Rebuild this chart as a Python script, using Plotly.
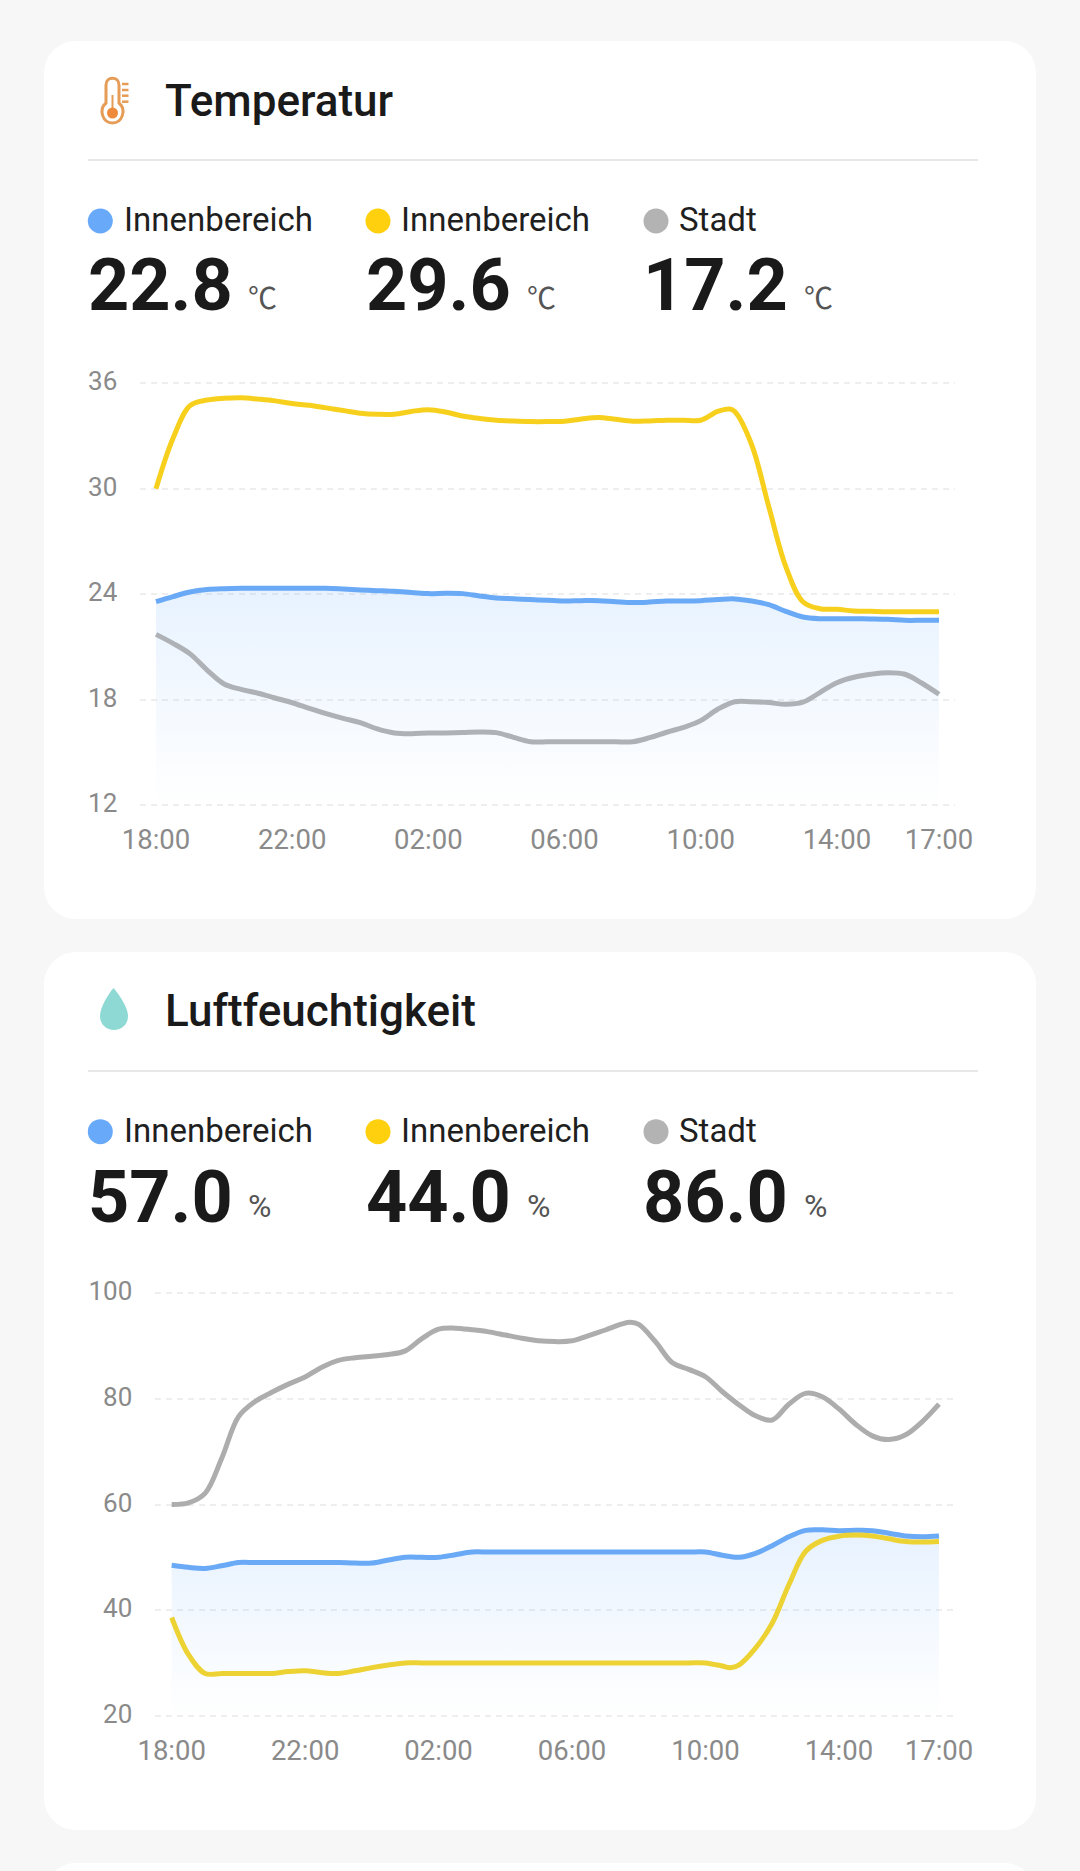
import plotly.graph_objects as go

stunden = [i * 0.5 for i in range(47)]
tick_stunden = [0, 4, 8, 12, 16, 20, 23]
tick_texte = ["18:00", "22:00", "02:00", "06:00", "10:00", "14:00", "17:00"]

temp_ticks = [12, 18, 24, 30, 36]
feucht_ticks = [20, 40, 60, 80, 100]

# Temperatur
temp_blau = [23.57, 23.86, 24.12, 24.26, 24.31, 24.33, 24.33, 24.33, 24.33, 24.33, 24.33, 24.29,
             24.24, 24.2, 24.16, 24.1, 24.03, 24.05, 24.03, 23.9, 23.78, 23.74, 23.69, 23.65,
             23.61, 23.63, 23.63, 23.57, 23.52, 23.55, 23.61, 23.61, 23.63, 23.69, 23.73, 23.61,
             23.4, 23.02, 22.7, 22.6, 22.6, 22.6, 22.59, 22.57, 22.51, 22.51, 22.51]
temp_gelb_stunden = sorted(stunden + [16.85])
temp_gelb = [30.0, 32.87, 34.73, 35.05, 35.15, 35.18, 35.1, 35.0, 34.85, 34.75, 34.6, 34.45,
             34.3, 34.24, 34.24, 34.4, 34.5, 34.37, 34.14, 34.0, 33.9, 33.85, 33.82, 33.82,
             33.84, 33.97, 34.06, 33.95, 33.84, 33.86, 33.9, 33.9, 33.9, 34.4, 34.54, 34.39, 32.49,
             28.98, 25.57, 23.57, 23.17, 23.14, 23.04, 23.02, 23.0, 23.0, 23.0, 23.0]
temp_grau = [21.71, 21.2, 20.6, 19.68, 18.89, 18.58, 18.36, 18.09, 17.82, 17.5, 17.2, 16.93,
             16.69, 16.33, 16.1, 16.06, 16.1, 16.1, 16.12, 16.16, 16.12, 15.85, 15.6, 15.6,
             15.6, 15.6, 15.6, 15.6, 15.6, 15.83, 16.14, 16.42, 16.8, 17.45, 17.88, 17.88,
             17.83, 17.73, 17.85, 18.4, 18.96, 19.27, 19.44, 19.53, 19.44, 18.93, 18.3]

# Luftfeuchtigkeit
feucht_blau = [48.5, 48.1, 47.9, 48.4, 49, 49, 49, 49, 49, 49, 49, 48.9,
               48.9, 49.5, 50, 50, 50, 50.5, 51, 51, 51, 51, 51, 51,
               51, 51, 51, 51, 51, 51, 51, 51, 51, 50.4, 50, 50.75,
               52.2, 53.9, 55.1, 55.2, 55.05, 55.1, 55.05, 54.55, 54.05, 53.9, 54.05]
feucht_gelb_stunden = sorted(stunden + [16.75])
feucht_gelb = [38.6, 31.6, 28, 28, 28, 28, 28, 28.35, 28.5, 28.15, 28, 28.5,
               29.1, 29.6, 30, 30, 30, 30, 30, 30, 30, 30, 30, 30,
               30, 30, 30, 30, 30, 30, 30, 30, 30, 29.4, 29.1, 29.6, 32.8,
               37.5, 44.8, 51.1, 53.2, 54, 54.2, 54.05, 53.5, 53, 52.9, 53]
feucht_grau_stunden = sorted(stunden + [13.75])
feucht_grau = [60, 60.3, 62.1, 68.75, 76.6, 79.5, 81.25, 82.8, 84.15, 86, 87.3, 87.8,
               88.1, 88.4, 89.1, 91.4, 93.2, 93.4, 93.1, 92.7, 92.1, 91.5, 91, 90.85,
               91, 92, 93.05, 94.2, 94.5, 94.1, 90.85, 86.9, 85.6, 84.2, 81.4, 78.9, 76.8,
               76, 79.0, 81.05, 80.4, 78.1, 75.2, 73, 72.3, 73.2, 75.7, 79]

# Kennzahlen oben in den Karten
namen = ["Innenbereich", "Innenbereich", "Stadt"]
temp_aktuell = ["22.8", "29.6", "17.2"]
feucht_aktuell = ["57.0", "44.0", "86.0"]

BREITE = 1080
HOEHE = 1871
SCHRIFT = "Roboto"
BLAU = "#69a9f5"
GELB = "#f7d01e"
GRAU = "#aeb1b6"
DICKE = 5


def fx(x):
    return x / BREITE


def fy(y):
    return 1 - y / HOEHE


def pfad(punkte):
    # Punkte in Pixeln -> SVG-Pfad in Papierkoordinaten
    teile = []
    for befehl, *werte in punkte:
        koord = []
        for i in range(0, len(werte), 2):
            koord.append(f"{fx(werte[i]):.5f},{fy(werte[i + 1]):.5f}")
        teile.append(befehl + " ".join(koord))
    return " ".join(teile)


def karte(x0, y0, x1, y1, r=32):
    k = r * 0.45
    return dict(
        type="path", xref="paper", yref="paper", layer="below",
        fillcolor="white", line=dict(width=0),
        path=pfad([
            ("M", x0 + r, y0), ("L", x1 - r, y0),
            ("C", x1 - k, y0, x1, y0 + k, x1, y0 + r),
            ("L", x1, y1 - r),
            ("C", x1, y1 - k, x1 - k, y1, x1 - r, y1),
            ("L", x0 + r, y1),
            ("C", x0 + k, y1, x0, y1 - k, x0, y1 - r),
            ("L", x0, y0 + r),
            ("C", x0, y0 + k, x0 + k, y0, x0 + r, y0),
        ]) + " Z",
    )


def linie(x0, y0, x1, y1, farbe, dicke):
    return dict(type="line", xref="paper", yref="paper", layer="below",
                x0=fx(x0), y0=fy(y0), x1=fx(x1), y1=fy(y1),
                line=dict(color=farbe, width=dicke))


def kreis(cx, cy, r, farbe, rand=None, dicke=0):
    return dict(type="circle", xref="paper", yref="paper", layer="below",
                x0=fx(cx - r), y0=fy(cy - r), x1=fx(cx + r), y1=fy(cy + r),
                fillcolor=farbe, line=dict(color=rand or farbe, width=dicke))


def text(x, y, inhalt, groesse, farbe, gewicht=400, familie=SCHRIFT):
    return dict(xref="paper", yref="paper", x=fx(x), y=fy(y), text=inhalt,
                xanchor="left", yanchor="middle", showarrow=False, borderpad=0,
                font=dict(family=familie, size=groesse, color=farbe, weight=gewicht))


fig = go.Figure()

# Temperatur
fig.add_trace(go.Scatter(
    x=stunden, y=temp_blau, xaxis="x", yaxis="y", mode="lines",
    line=dict(color=BLAU, width=DICKE, shape="spline"), fill="tozeroy",
    fillgradient=dict(type="vertical", start=24.4, stop=12,
                      colorscale=[[0, "rgba(106,174,255,0.16)"], [1, "rgba(106,174,255,0)"]]),
))
fig.add_trace(go.Scatter(x=temp_gelb_stunden, y=temp_gelb, xaxis="x", yaxis="y", mode="lines",
                         line=dict(color=GELB, width=DICKE, shape="spline")))
fig.add_trace(go.Scatter(x=stunden, y=temp_grau, xaxis="x", yaxis="y", mode="lines",
                         line=dict(color=GRAU, width=DICKE, shape="spline")))

# Luftfeuchtigkeit
fig.add_trace(go.Scatter(
    x=stunden, y=feucht_blau, xaxis="x2", yaxis="y2", mode="lines",
    line=dict(color=BLAU, width=DICKE, shape="spline"), fill="tozeroy",
    fillgradient=dict(type="vertical", start=55.2, stop=20,
                      colorscale=[[0, "rgba(106,174,255,0.16)"], [1, "rgba(106,174,255,0)"]]),
))
fig.add_trace(go.Scatter(x=feucht_gelb_stunden, y=feucht_gelb, xaxis="x2", yaxis="y2", mode="lines",
                         line=dict(color="#edd234", width=DICKE, shape="spline")))
fig.add_trace(go.Scatter(x=feucht_grau_stunden, y=feucht_grau, xaxis="x2", yaxis="y2", mode="lines",
                         line=dict(color="#adadad", width=DICKE, shape="spline")))

achse_x = dict(showgrid=False, zeroline=False, showline=False, automargin=False, tickmode="array",
               tickvals=tick_stunden, ticktext=tick_texte, ticks="outside", ticklen=8,
               tickcolor="rgba(0,0,0,0)", tickfont=dict(family=SCHRIFT, size=27.5, color="#8a8a8a"))
achse_y = dict(showgrid=True, gridcolor="#eeeeee", griddash="6px,5px", gridwidth=1.5,
               zeroline=False, showline=False, automargin=False, tickmode="array", ticks="outside", ticklen=16.5,
               ticklabelshift=-2,
               tickcolor="rgba(0,0,0,0)", tickfont=dict(family=SCHRIFT, size=26, color="#8a8a8a"))

# Karten, Trennlinien, Punkte, Symbole
formen = [
    karte(44, 41, 1036, 919),
    karte(44, 952, 1036, 1830),
    karte(44, 1863, 1036, 2100),
    linie(88, 160, 978, 160, "#e8e8e8", 2),
    linie(88, 1071, 978, 1071, "#e8e8e8", 2),
]
for cy in (221, 1131.7):
    formen.append(kreis(100.3, cy, 12.5, "#69a9fa"))
    formen.append(kreis(378, cy, 12.5, "#ffd00d"))
    formen.append(kreis(656, cy, 12.5, "#b3b3b3"))

# Thermometer
formen.append(dict(
    type="path", xref="paper", yref="paper", layer="below", fillcolor="white",
    line=dict(color="#e59c57", width=3),
    path=pfad([
        ("M", 106, 103), ("L", 106, 85),
        ("C", 106, 76, 119, 76, 119, 85),
        ("L", 119, 103),
        ("C", 127, 110, 122, 123, 112.5, 123),
        ("C", 103, 123, 98, 110, 106, 103),
    ]) + " Z",
))
formen.append(linie(112.5, 95, 112.5, 110, "#e59c57", 2))
formen.append(kreis(112.5, 113, 5.5, "#ee8a3c"))
for y in (84, 90, 95.7, 101.7):
    formen.append(linie(122, y, 128.5, y, "#e59c57", 2.5))

# Tropfen
formen.append(dict(
    type="path", xref="paper", yref="paper", layer="below", fillcolor="#8fd9d5",
    line=dict(width=0),
    path=pfad([
        ("M", 113.5, 988),
        ("C", 118, 993, 128, 1007, 128, 1016),
        ("C", 128, 1025, 121, 1030, 114, 1030),
        ("C", 107, 1030, 100, 1025, 100, 1016),
        ("C", 100, 1007, 109, 993, 113.5, 988),
    ]) + " Z",
))

texte = [
    text(163.5, 101, "Temperatur", 44, "#1a1a1a", 500),
    text(163.5, 1011, "Luftfeuchtigkeit", 44, "#1a1a1a", 500),
]
for y, werte, einheit, einheit_x, familie, groesse in (
    (220, temp_aktuell, "℃", (247, 526, 803), "Noto Sans CJK SC", 29),
    (1130, feucht_aktuell, "%", (247, 526, 803), SCHRIFT, 32),
):
    for name, wert, x_name, x_wert, x_einheit in zip(namen, werte, (122.5, 400, 677.5), (87, 365, 642), einheit_x):
        texte.append(text(x_name, y, name, 33, "#1f1f1f"))
        texte.append(text(x_wert, 286 if y == 220 else 1197, wert, 72, "#1a1a1a", 700))
        texte.append(text(x_einheit, 296 if y == 220 else 1206, einheit, groesse, "#555555", 400, familie))

fig.update_layout(
    width=BREITE, height=HOEHE, autosize=False,
    margin=dict(l=0, r=0, t=0, b=0),
    paper_bgcolor="#f7f7f7", plot_bgcolor="rgba(0,0,0,0)",
    showlegend=False, hovermode=False,
    shapes=formen, annotations=texte,
    xaxis=dict(achse_x, domain=[fx(140), fx(955)], range=[-0.47, 23.47], anchor="y"),
    # Bereich etwas groesser, sonst fallen die Gitterlinien am Rand weg
    yaxis=dict(achse_y, domain=[fy(807), fy(381.3)], range=[11.886, 36.114], tickvals=temp_ticks, anchor="x"),
    xaxis2=dict(achse_x, domain=[fx(155), fx(953)], range=[-0.5, 23.42], anchor="y2"),
    yaxis2=dict(achse_y, domain=[fy(1717.7), fy(1291.3)], range=[19.62, 100.38], tickvals=feucht_ticks, anchor="x2"),
)

fig.write_html("out.html", config={"displayModeBar": False},
               post_script="document.body.style.margin='0';")
